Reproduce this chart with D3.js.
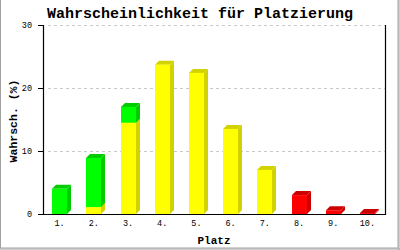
<!DOCTYPE html>
<html>
<head>
<meta charset="utf-8">
<script src="https://d3js.org/d3.v7.min.js"></script>
<style>
  body { margin: 0; background: #fff; }
  svg { display: block; }
  text { font-family: "Liberation Mono", "DejaVu Sans Mono", monospace; fill: #000; }
</style>
</head>
<body>
<div id="chart"></div>
<script>
// Chart data - - - - - - - - - - - - - - - - - - - - - - - - - - - - - -
var places = ["1.", "2.", "3.", "4.", "5.", "6.", "7.", "8.", "9.", "10."]
var yellowVals = [0, 1.1, 14.5, 23.7, 22.4, 13.5, 7.0, 0, 0, 0]
var greenVals  = [4.0, 7.8, 2.5, 0, 0, 0, 0, 0, 0, 0]
var redVals    = [0, 0, 0, 0, 0, 0, 0, 3.0, 0.6, 0.15]
var yTicks = [0, 10, 20, 30]

// Canvas - - - - - - - - - - - - - - - - - - - - - - - - - - - - - - - -
var svgWidth = 400
  , svgHeight = 250
  , plot = {left: 43, right: 385, top: 25, bottom: 214}
  , barW = 15
  , depth = 4

var svg = d3.select("#chart").append("svg")
    .attr("width", svgWidth)
    .attr("height", svgHeight)

// outer frame (left, bottom, right like a shadowed box)
svg.append("path")
    .attr("d", "M0.5,0 V248 H398 V0")
    .attr("fill", "none")
    .attr("stroke", "#a0a0a0")
    .attr("stroke-width", 1)
svg.append("path")
    .attr("d", "M0,249 H400 M399,0 V250")
    .attr("fill", "none")
    .attr("stroke", "#a0a0a0")
    .attr("stroke-width", 1)

var x = d3.scaleBand()
    .domain(places)
    .range([plot.left, plot.right])

var y = d3.scaleLinear()
    .domain([0, 30])
    .range([plot.bottom, plot.top])

// gridlines
svg.append("g")
    .selectAll("line")
    .data(yTicks.filter(d => d > 0))
    .enter().append("line")
    .attr("x1", plot.left + 5)
    .attr("x2", plot.right)
    .attr("y1", d => Math.round(y(d)) + 0.5)
    .attr("y2", d => Math.round(y(d)) + 0.5)
    .attr("stroke", "#c8c8c8")
    .attr("stroke-dasharray", "3,3")

// series stacked bottom to top
var series = [
    {vals: yellowVals, front: "#ffff00", side: "#d2d200"},
    {vals: greenVals,  front: "#00ff00", side: "#00cc00"},
    {vals: redVals,    front: "#ff0000", side: "#cc0000"}
]

var bars = svg.append("g")
places.forEach(function(p, i) {
    var base = 0
    series.forEach(function(s) {
        var v = s.vals[i]
        if (v <= 0) return
        var x0 = Math.round(x(p) + x.bandwidth() / 2 - 8)
          , x1 = x0 + barW
          , yb = y(base)
          , yt = y(base + v)
        // side face
        bars.append("polygon")
            .attr("points", [[x1, yt], [x1 + depth, yt - depth], [x1 + depth, yb - depth], [x1, yb]].join(" "))
            .attr("fill", s.side)
        // top face
        bars.append("polygon")
            .attr("points", [[x0, yt], [x0 + depth, yt - depth], [x1 + depth, yt - depth], [x1, yt]].join(" "))
            .attr("fill", s.side)
        // front face
        bars.append("rect")
            .attr("x", x0)
            .attr("y", yt)
            .attr("width", barW)
            .attr("height", yb - yt)
            .attr("fill", s.front)
        base += v
    })
})

// axes lines
svg.append("path")
    .attr("d", "M" + (plot.left + 0.5) + "," + plot.top + " V" + (plot.bottom + 0.5) +
               " H" + (plot.right + 0.5) + " V" + plot.top)
    .attr("fill", "none")
    .attr("stroke", "#000")
    .attr("stroke-width", 1.2)

// y ticks & labels
var yt = svg.append("g")
yt.selectAll("line")
    .data(yTicks)
    .enter().append("line")
    .attr("x1", plot.left - 5)
    .attr("x2", plot.left)
    .attr("y1", d => Math.round(y(d)) + 0.5)
    .attr("y2", d => Math.round(y(d)) + 0.5)
    .attr("stroke", "#000")
yt.selectAll("text")
    .data(yTicks)
    .enter().append("text")
    .attr("x", 32)
    .attr("y", d => y(d) + 3)
    .attr("text-anchor", "end")
    .attr("font-size", 8.5)
    .text(d => d)

// x labels
svg.append("g")
    .selectAll("text")
    .data(places)
    .enter().append("text")
    .attr("x", d => x(d) + x.bandwidth() / 2 - 0.5)
    .attr("y", 226)
    .attr("text-anchor", "middle")
    .attr("font-size", 8.5)
    .text(d => d)

// titles
svg.append("text")
    .attr("x", 200)
    .attr("y", 18)
    .attr("text-anchor", "middle")
    .attr("font-size", 15)
    .attr("font-weight", "bold")
    .text("Wahrscheinlichkeit für Platzierung")

svg.append("text")
    .attr("x", 214)
    .attr("y", 244)
    .attr("text-anchor", "middle")
    .attr("font-size", 11)
    .attr("font-weight", "bold")
    .text("Platz")

svg.append("text")
    .attr("transform", "translate(17,121) rotate(-90)")
    .attr("text-anchor", "middle")
    .attr("font-size", 11.5)
    .attr("font-weight", "bold")
    .text("Wahrsch. (%)")
</script>
</body>
</html>
